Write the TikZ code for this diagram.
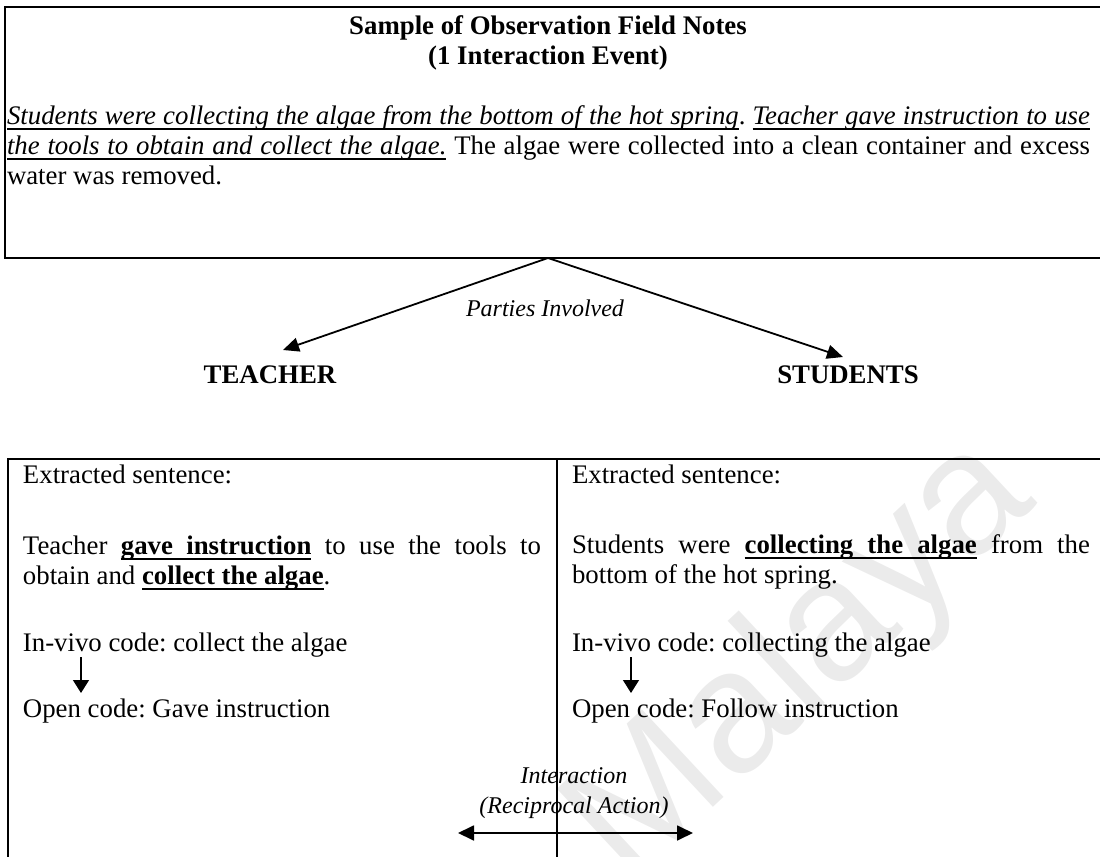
\documentclass[tikz,border=0pt]{standalone}
\usepackage{fontspec}
\setmainfont{Liberation Serif}
\setsansfont{Liberation Sans}
\usetikzlibrary{arrows.meta}
\definecolor{wmgray}{gray}{0.92}
\frenchspacing

% word-by-word underline that keeps the spaces stretchable
\newcommand\ulsp{\leaders\hrule height -2pt depth 2.8pt\hskip\fontdimen2\font plus \fontdimen3\font minus \fontdimen4\font}
\newcommand\ul[1]{\ulloop#1 \ulend}
\def\ulloop#1 #2\ulend{\setbox0\hbox{#1}\rlap{\rule[-2.8pt]{\wd0}{0.8pt}}\box0%
  \ifx\relax#2\relax\else\ulsp\ulloop#2\ulend\fi}

\begin{document}
\begin{tikzpicture}[x=0.5pt,y=-0.5pt,
  boxline/.style={line width=1.2pt},
  rule/.style={line width=1pt},
  txt/.style={inner sep=0pt,outer sep=0pt,font=\fontsize{13.4}{15}\selectfont\frenchspacing},
  para/.style={txt,align=justify,anchor=base west},
  line/.style={txt,anchor=base west},
  head/.style={txt,font=\fontsize{13.4}{15}\selectfont\bfseries,anchor=base},
  party/.style={txt,font=\fontsize{13.4}{15}\selectfont\bfseries,anchor=base},
  note/.style={txt,font=\fontsize{12}{14}\selectfont\itshape,anchor=base},
  spoke/.style={line width=0.9pt,-{Triangle[length=8pt,width=7pt]}},
  codearrow/.style={line width=0.7pt,-{Triangle[length=6.5pt,width=8pt]}},
  both/.style={line width=0.9pt,{Triangle[length=8pt,width=7.5pt]}-{Triangle[length=8pt,width=7.5pt]}},
]
\useasboundingbox (0,0) rectangle (1100,857);
\clip (0,0) rectangle (1100,857);

% watermark behind everything
\node[rotate=43, text=wmgray, font=\fontsize{87}{87}\selectfont\sffamily, inner sep=0pt] (mark) at (803,662) {Malaya};

% field-notes box (open to the right)
\draw[boxline] (1110,7) -- (5,7) -- (5,258) -- (1110,258);
\node[head] (title) at (548,34) {Sample of Observation Field Notes};
\node[head] (event) at (548,64) {(1 Interaction Event)};
\node[para, text width=541.5pt] (notes) at (7,124) {\sloppy
  {\itshape\ul{Students were collecting the algae from the bottom of the hot spring}}.
  {\itshape\ul{Teacher gave instruction to use}}\linebreak
  {\itshape\ul{the tools to obtain and collect the algae.}} The algae were collected into a clean container and excess\linebreak
  water was removed.};

% parties involved
\coordinate (apex) at (548,258);
\coordinate (tTip) at (283,350);
\coordinate (sTip) at (843,357);
\draw[spoke] (apex) -- (tTip);
\draw[spoke] (apex) -- (sTip);
\node[note] (parties) at (545,316) {Parties Involved};
\node[party] (teacher) at (270,383) {TEACHER};
\node[party] (students) at (848,383) {STUDENTS};

% coding table
\draw[rule] (1110,459) -- (8,459) -- (8,870);
\draw[rule] (557,459) -- (557,870);

\node[line] (tExt) at (23,483) {Extracted sentence:};
\node[para, text width=259pt] (tSent) at (23,554) {Teacher {\bfseries\ul{gave instruction}} to use the tools to\linebreak
  obtain and {\bfseries\ul{collect the algae}}.};
\node[line] (tVivo) at (23,651) {In-vivo code: collect the algae};
\node[line] (tOpen) at (23,717) {Open code: Gave instruction};
\coordinate (tA) at (81,657);
\coordinate (tB) at (81,693);
\draw[codearrow] (tA) -- (tB);

\node[line] (sExt) at (572,483) {Extracted sentence:};
\node[para, text width=259pt] (sSent) at (572,553) {Students were {\bfseries\ul{collecting the algae}} from the\linebreak
  bottom of the hot spring.};
\node[line] (sVivo) at (572,651) {In-vivo code: collecting the algae};
\node[line] (sOpen) at (572,717) {Open code: Follow instruction};
\coordinate (sA) at (631,657);
\coordinate (sB) at (631,693);
\draw[codearrow] (sA) -- (sB);

% reciprocal interaction
\node[note] (inter) at (574,783) {Interaction};
\node[note] (recip) at (574,813) {(Reciprocal Action)};
\coordinate (rL) at (458,833);
\coordinate (rR) at (693,833);
\draw[both] (rL) -- (rR);
\end{tikzpicture}
\end{document}
